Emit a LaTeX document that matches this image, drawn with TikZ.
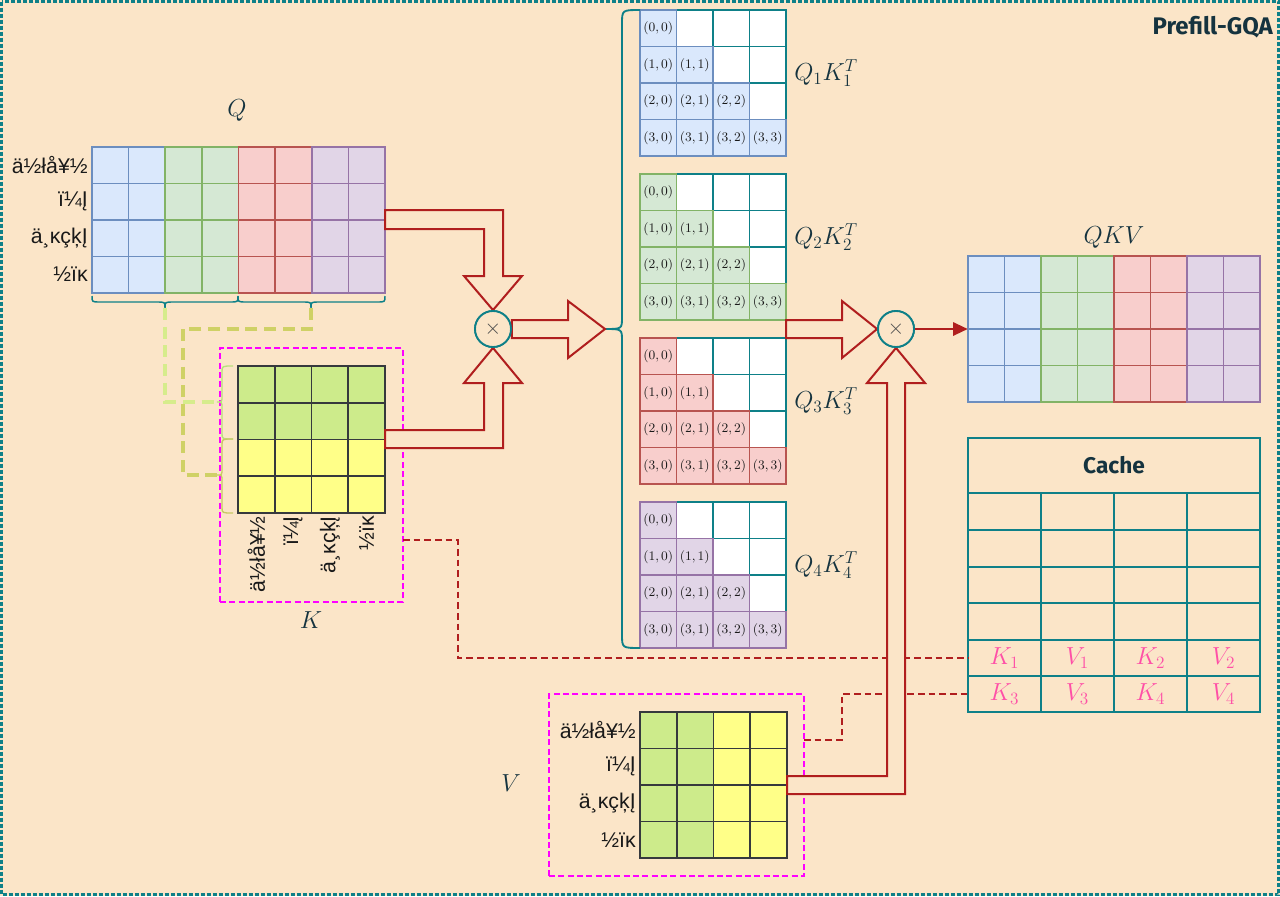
\RequirePackage{fix-cm}
\documentclass[tikz,border=0pt]{standalone}
\usepackage{fontspec}
\setmainfont{Liberation Sans}
\newfontfamily\titlefont{Fira Sans}
\usetikzlibrary{fit,arrows.meta}
\definecolor{bg}{HTML}{FBE5C8}
\definecolor{tealc}{HTML}{0E8088}
\definecolor{bfill}{HTML}{DAE8FC}\definecolor{bline}{HTML}{6C8EBF}
\definecolor{gfill}{HTML}{D5E8D4}\definecolor{gline}{HTML}{82B366}
\definecolor{rfill}{HTML}{F8CECC}\definecolor{rline}{HTML}{B85450}
\definecolor{pfill}{HTML}{E1D5E7}\definecolor{pline}{HTML}{9673A6}
\definecolor{kgreen}{HTML}{CDEB8B}\definecolor{kyellow}{HTML}{FFFF88}\definecolor{kline}{HTML}{36393D}
\definecolor{darkred}{HTML}{B01E1E}
\definecolor{txt}{HTML}{15333F}
\definecolor{pinkc}{HTML}{FF4FA7}
\definecolor{dashA}{HTML}{D6EC8C}\definecolor{dashB}{HTML}{CFD166}
\definecolor{braceA}{HTML}{B8E07C}\definecolor{braceB}{HTML}{C8C864}
\definecolor{magc}{HTML}{FF00FF}
\begin{document}
\begin{tikzpicture}[x=0.75pt,y=-0.75pt,
  cell/.style={line width=1.3pt},
  rowlab/.style={font=\fontsize{16}{18}\selectfont, text=black!90, inner sep=0pt},
  mathlab/.style={font=\fontsize{18.5}{22}\selectfont, text=txt, inner sep=0pt},
  smalllab/.style={font=\fontsize{9.8}{10}\selectfont, text=black!90, inner sep=0pt},
  blockarrow/.style={draw=darkred, fill=bg, line width=1.5pt, line join=miter},
  reddash/.style={draw=darkred, line width=1.2pt, dash pattern=on 5pt off 3pt},
  magbox/.style={draw=magc, line width=1.2pt, dash pattern=on 4.5pt off 2.5pt, inner sep=0pt},
  mult/.style={circle, draw=tealc, line width=1.4pt, minimum size=27pt, inner sep=0pt, fill=bg, font=\fontsize{16}{16}\selectfont, text=black!70},
  cachecell/.style={minimum width=54.75pt, minimum height=27.4pt, inner sep=0pt, font=\fontsize{18.5}{22}\selectfont, text=pinkc},
  fitbox/.style={inner sep=0pt}
]
\useasboundingbox (0,0) rectangle (1280,896);
\fill[bg] (0,0) rectangle (1280,896);
\draw[tealc, line width=2.2pt, dash pattern=on 3pt off 1.5pt] (1.5,1.5) rectangle (1278.5,894.5);

% title
\node[anchor=east, inner sep=0pt, font=\titlefont\bfseries\fontsize{18}{20}\selectfont, text=txt] (title) at (1273,27) {Prefill-GQA};

% ---------- Q matrix ----------
\foreach \c/\fc/\lc in {0/bfill/bline,1/bfill/bline,2/gfill/gline,3/gfill/gline,4/rfill/rline,5/rfill/rline,6/pfill/pline,7/pfill/pline}{
  \foreach \r in {0,...,3}{
    \draw[cell,\lc,fill=\fc] ({92+\c*36.625},{147+\r*36.5}) rectangle ++(36.625,36.5);
  }}
\node[fit={(92,147)(385,293)}, fitbox] (Qm) {};
\node[mathlab] (Qlab) at (237,110) {$Q$};
\node[rowlab, anchor=east] (q1) at (88,165) {ä½łå¥½};
\node[rowlab, anchor=east] (q2) at (88,201.5) {ï¼Į};
\node[rowlab, anchor=east] (q3) at (88,238) {ä¸ĸçķĮ};
\node[rowlab, anchor=east] (q4) at (88,274.5) {½ïĸ};

% braces under Q
\draw[tealc, line width=1.1pt] (92,296) .. controls (92,302) .. (100,302) -- (157,302) .. controls (165,302) .. (165,308) .. controls (165,302) .. (173,302) -- (230,302) .. controls (238,302) .. (238,296);
\draw[tealc, line width=1.1pt] (238,296) .. controls (238,302) .. (246,302) -- (303,302) .. controls (311,302) .. (311,308) .. controls (311,302) .. (319,302) -- (377,302) .. controls (385,302) .. (385,296);
\coordinate (qb1) at (165,308);
\coordinate (qb2) at (311,308);

% ---------- K ----------
\node[fit={(220,348)(403,602)}, magbox] (Kbox) {};
\foreach \r/\fc in {0/kgreen,1/kgreen,2/kyellow,3/kyellow}{
  \foreach \c in {0,...,3}{
    \draw[cell,kline,fill=\fc] ({238+\c*36.75},{366+\r*36.75}) rectangle ++(36.75,36.75);
  }}
\node[fit={(238,366)(385,513)}, fitbox] (Km) {};
\node[mathlab] (Klab) at (311,620) {$K$};
\node[rowlab, rotate=90, anchor=east] (k1) at (256.4,516) {ä½łå¥½};
\node[rowlab, rotate=90, anchor=east] (k2) at (293.1,516) {ï¼Į};
\node[rowlab, rotate=90, anchor=east] (k3) at (329.9,516) {ä¸ĸçķĮ};
\node[rowlab, rotate=90, anchor=east] (k4) at (366.6,516) {½ïĸ};
% braces left of K
\draw[braceA, line width=1pt] (233,366) .. controls (222,366) .. (222,372) -- (222,396) .. controls (222,402) .. (217,402) .. controls (222,402) .. (222,408) -- (222,433) .. controls (222,439) .. (233,439);
\draw[braceB, line width=1pt] (233,439) .. controls (222,439) .. (222,445) -- (222,469) .. controls (222,475) .. (217,475) .. controls (222,475) .. (222,481) -- (222,507) .. controls (222,513) .. (233,513);
\coordinate (kb1) at (217,402);
\coordinate (kb2) at (217,475);
\draw[dashA, line width=2.6pt, dash pattern=on 9pt off 5pt] (qb1) |- (kb1);
\draw[dashB, line width=2.6pt, dash pattern=on 9pt off 5pt] (qb2) |- (183,329) |- (kb2);

% ---------- V ----------
\node[fit={(549,694)(804,876)}, magbox] (Vbox) {};
\foreach \c/\fc in {0/kgreen,1/kgreen,2/kyellow,3/kyellow}{
  \foreach \r in {0,...,3}{
    \draw[cell,kline,fill=\fc] ({640+\c*36.75},{712+\r*36.5}) rectangle ++(36.75,36.5);
  }}
\node[fit={(640,712)(787,858)}, fitbox] (Vm) {};
\node[mathlab] (Vlab) at (511,783) {$V$};
\node[rowlab, anchor=east] (v1) at (636,730.25) {ä½łå¥½};
\node[rowlab, anchor=east] (v2) at (636,766.75) {ï¼Į};
\node[rowlab, anchor=east] (v3) at (636,803.25) {ä¸ĸçķĮ};
\node[rowlab, anchor=east] (v4) at (636,839.75) {½ïĸ};

% ---------- score matrices ----------
\foreach \m/\yy/\fc/\lc in {1/10/bfill/bline,2/174/gfill/gline,3/338/rfill/rline,4/502/pfill/pline}{
  \foreach \r in {0,...,3}{
    \foreach \c in {0,...,3}{
      \ifnum\c>\r
        \draw[cell,tealc,fill=white] ({640+\c*36.5},{\yy+\r*36.5}) rectangle ++(36.5,36.5);
      \fi
    }}
  \foreach \r in {0,...,3}{
    \foreach \c in {0,...,\r}{
      \draw[cell,\lc,fill=\fc] ({640+\c*36.5},{\yy+\r*36.5}) rectangle ++(36.5,36.5);
      \node[smalllab] (c\m-\r-\c) at ({658.25+\c*36.5},{\yy+18.25+\r*36.5}) {$(\r,\c)$};
    }}
  \node[fit={(640,\yy)(786,\yy+146)}, fitbox] (S\m) {};
  \node[mathlab, anchor=west] (SL\m) at (794,{\yy+63}) {$Q_\m K_\m^T$};
}
% big brace
\draw[tealc, line width=1.4pt] (640,10) .. controls (622,10) .. (622,24) -- (622,317) .. controls (622,329) .. (605,329) .. controls (622,329) .. (622,341) -- (622,634) .. controls (622,648) .. (640,648);
\coordinate (bigtip) at (605,329);

% ---------- QKV ----------
\foreach \c/\fc/\lc in {0/bfill/bline,1/bfill/bline,2/gfill/gline,3/gfill/gline,4/rfill/rline,5/rfill/rline,6/pfill/pline,7/pfill/pline}{
  \foreach \r in {0,...,3}{
    \draw[cell,\lc,fill=\fc] ({968+\c*36.5},{256+\r*36.5}) rectangle ++(36.5,36.5);
  }}
\node[fit={(968,256)(1260,402)}, fitbox] (QKVm) {};
\node[mathlab] (QKVlab) at (1114,237) {$QKV$};

% ---------- Cache ----------
\node[inner sep=0pt, font=\titlefont\bfseries\fontsize{17}{19}\selectfont, text=txt] (cache) at (1114,465.5) {Cache};
\draw[tealc, line width=1.4pt] (968,438) rectangle (1260,712);
\foreach \yy in {493,530,567,603,640,676}{
  \draw[tealc, line width=1.4pt] (968,\yy) -- (1260,\yy);
}
\foreach \xx in {1041,1114,1187}{
  \draw[tealc, line width=1.4pt] (\xx,493) -- (\xx,712);
}
\node[cachecell] (cK1) at (1004.5,658) {$K_1$};
\node[cachecell] (cV1) at (1077.5,658) {$V_1$};
\node[cachecell] (cK2) at (1150.5,658) {$K_2$};
\node[cachecell] (cV2) at (1223.5,658) {$V_2$};
\node[cachecell] (cK3) at (1004.5,694) {$K_3$};
\node[cachecell] (cV3) at (1077.5,694) {$V_3$};
\node[cachecell] (cK4) at (1150.5,694) {$K_4$};
\node[cachecell] (cV4) at (1223.5,694) {$V_4$};

% dashed links to cache
\coordinate (kout) at (403,540);
\coordinate (vout) at (804,740);
\draw[reddash] (kout) -| (458,658) -- (cK1.west);
\draw[reddash] (vout) -| (842,694) -- (cK3.west);

% ---------- multiply nodes ----------
\node[mult] (x1) at (493,329) {$\times$};
\node[mult] (x2) at (896,329) {$\times$};

% block arrows
\draw[blockarrow] (385,210) -- (503,210) -- (503,276) -- (522,276) -- (x1.north) -- (464,276) -- (484,276) -- (484,229) -- (385,229) -- cycle;
\draw[blockarrow] (385,448) -- (503,448) -- (503,383) -- (522,383) -- (x1.south) -- (464,383) -- (484,383) -- (484,430) -- (385,430) -- cycle;
\draw[blockarrow] (x1.east |- 0,320) -- (568,320) -- (568,301) -- (bigtip) -- (568,358) -- (568,338) -- (x1.east |- 0,338) -- cycle;
\draw[blockarrow] (786,320) -- (842,320) -- (842,301) -- (x2.west) -- (842,358) -- (842,338) -- (786,338) -- cycle;
\draw[blockarrow] (787,776) -- (887,776) -- (887,383) -- (867,383) -- (x2.south) -- (925,383) -- (905,383) -- (905,794) -- (787,794) -- cycle;
\node[mult] at (x1) {$\times$};
\node[mult] at (x2) {$\times$};

% thin arrow
\draw[darkred, line width=1.5pt, -{Triangle[length=11pt,width=10pt]}] (x2.east) -- (QKVm.west);
\end{tikzpicture}
\end{document}
